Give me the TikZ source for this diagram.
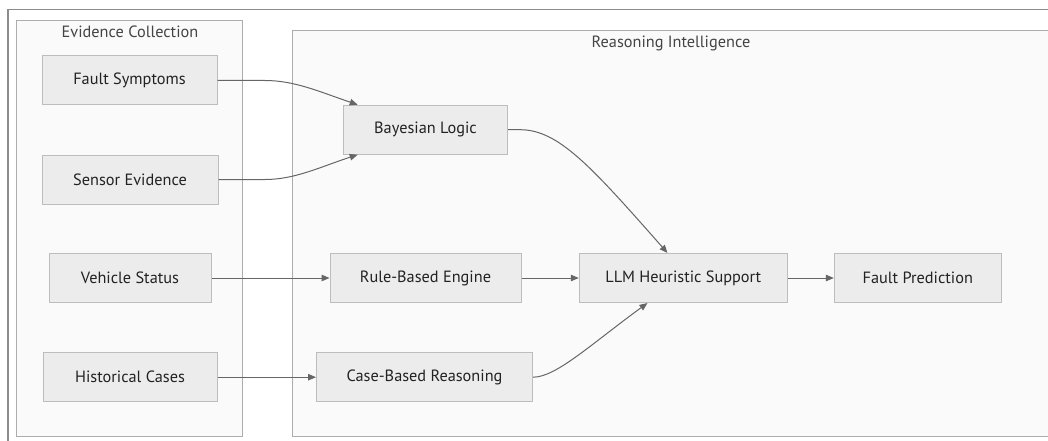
\documentclass[tikz,border=0pt]{standalone}
\usepackage{fontspec}
\setmainfont{PT Sans}
\usetikzlibrary{arrows.meta,calc}
\definecolor{nodefill}{HTML}{ECECEC}
\definecolor{nodeline}{HTML}{BDBDBD}
\definecolor{clusterfill}{HTML}{FAFAFA}
\definecolor{clusterline}{HTML}{ACACAC}
\definecolor{frameline}{HTML}{8C8C8C}
\definecolor{edgeline}{HTML}{666666}
\definecolor{textcol}{HTML}{222222}
\definecolor{titlecol}{HTML}{444444}
\begin{document}
\begin{tikzpicture}[x=1pt,y=-1pt,
  box/.style={draw=nodeline,fill=nodefill,line width=1pt,rectangle,
    minimum height=49pt,inner sep=0pt,text=textcol,font=\fontsize{16.3}{18}\selectfont},
  cluster/.style={draw=clusterline,fill=clusterfill,line width=1pt},
  clustertitle/.style={text=titlecol,font=\fontsize{16.3}{18}\selectfont,inner sep=0pt},
  link/.style={draw=edgeline,line width=1pt,-{Triangle[length=8pt,width=6.5pt]}}]
  \useasboundingbox (0,0) rectangle (1048,441);
  \clip (0,0) rectangle (1048,441);
  % outer frame
  \draw[frameline,line width=1.5pt] (8,445) -- (8,9.5) -- (1052,9.5);
  % clusters
  \draw[cluster] (16.7,20.7) rectangle (242.7,436.7);
  \draw[cluster] (292,30.5) rectangle (1070,436.7);
  \node[clustertitle] (evtitle) at (130,32) {Evidence Collection};
  \node[clustertitle] (rititle) at (671,43) {Reasoning Intelligence};
  % evidence nodes
  \node[box,minimum width=175pt] (fs) at (129.5,80.5) {Fault Symptoms};
  \node[box,minimum width=176pt] (se) at (130,179.5) {Sensor Evidence};
  \node[box,minimum width=162pt] (vs) at (130,278) {Vehicle Status};
  \node[box,minimum width=174pt] (hc) at (130,377.2) {Historical Cases};
  % reasoning nodes
  \node[box,minimum width=164pt] (bl) at (425.5,129.7) {Bayesian Logic};
  \node[box,minimum width=191pt] (rb) at (425.5,278) {Rule-Based Engine};
  \node[box,minimum width=216pt] (cb) at (424.5,377.2) {Case-Based Reasoning};
  \node[box,minimum width=208pt] (llm) at (683.3,278) {LLM Heuristic Support};
  \node[box,minimum width=167pt] (fp) at (917.8,278) {Fault Prediction};
  % connectors
  \draw[link] (fs.east) -- (265,80.5) .. controls (295,80.5) and (320,92) .. ($(bl.north west)+(14.7,0)$);
  \draw[link] (se.east) -- (265,179.5) .. controls (295,179.5) and (320,167) .. ($(bl.south west)+(14.7,0)$);
  \draw[link] (vs.east) -- (rb.west);
  \draw[link] (hc.east) -- (cb.west);
  \draw[link] (bl.east) -- (520,129.7) .. controls (558,129.7) and (590,165) .. ($(llm.north west)+(88.7,0)$);
  \draw[link] (rb.east) -- (llm.west);
  \draw[link] (cb.east) .. controls (556,377.2) and (590,345) .. ($(llm.south west)+(68.7,0)$);
  \draw[link] (llm.east) -- (fp.west);
\end{tikzpicture}
\end{document}
